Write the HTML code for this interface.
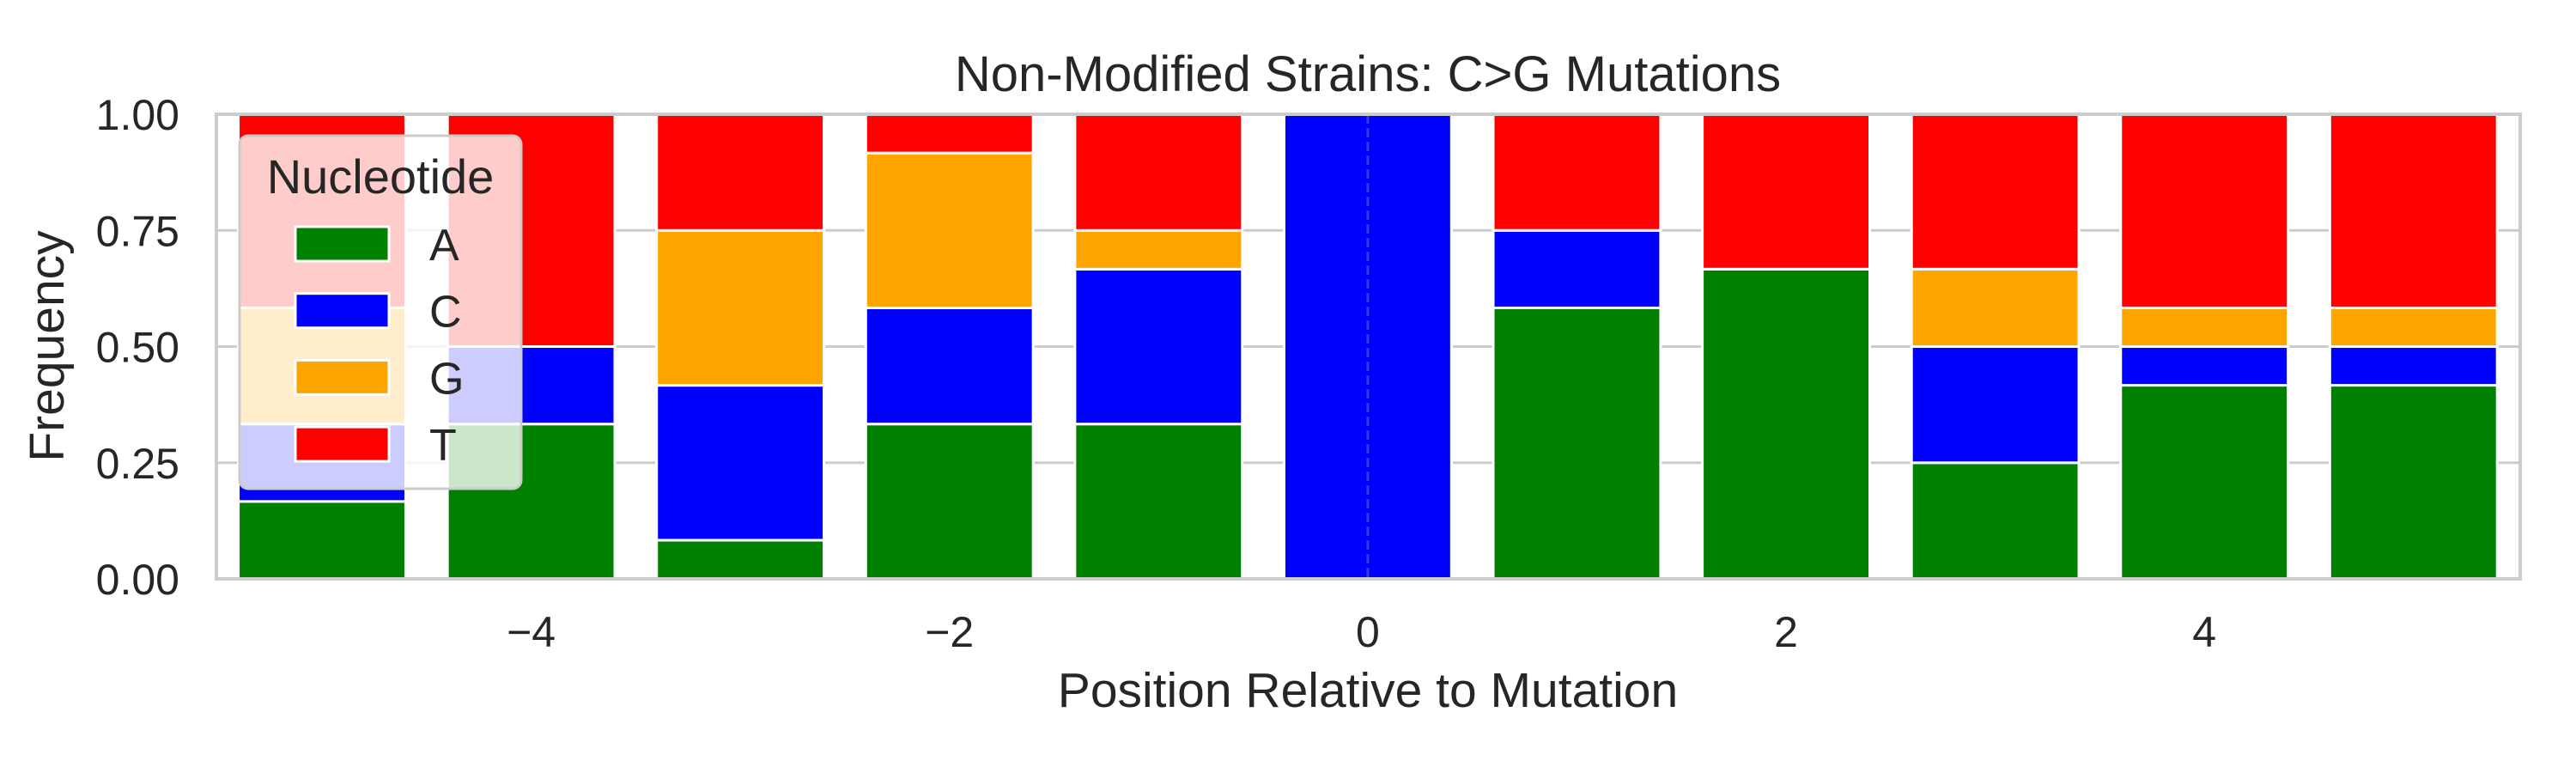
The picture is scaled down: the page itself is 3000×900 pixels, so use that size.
<!DOCTYPE html>
<html><head><meta charset="utf-8">
<style>
html,body{margin:0;padding:0;background:#fff;}
svg{display:block;font-family:"Liberation Sans",Arial,sans-serif;}
</style></head>
<body>
<svg id="chart" width="3000" height="900" viewBox="0 0 3000 900" xmlns="http://www.w3.org/2000/svg">
<rect x="0" y="0" width="3000" height="900" fill="#fff"/>
<g id="grid"></g>
<g id="bars"></g>
<g id="axes"></g>
<text x="1593" y="106" font-size="58" fill="#262626" text-anchor="middle">Non-Modified Strains: C&gt;G Mutations</text>
<text x="1593" y="823" font-size="57" fill="#262626" text-anchor="middle">Position Relative to Mutation</text>
<text transform="translate(74,403) rotate(-90)" font-size="57" fill="#262626" text-anchor="middle">Frequency</text>
<g id="legend"></g>
</svg>
<script>
const positions = [-5,-4,-3,-2,-1,0,1,2,3,4,5];
const nucleotides = ['A','C','G','T'];
const colors = ['#008000','#0000ff','#ffa500','#ff0000'];
const freqA = [0.1667,0.3333,0.0833,0.3333,0.3333,0,0.5833,0.6667,0.25,0.4167,0.4167];
const freqC = [0.1667,0.1667,0.3333,0.25,0.3333,1,0.1667,0,0.25,0.0833,0.0833];
const freqG = [0.25,0,0.3333,0.3333,0.0833,0,0,0,0.1667,0.0833,0.0833];
const freqT = [0.4167,0.5,0.25,0.0833,0.25,0,0.25,0.3333,0.3333,0.4167,0.4167];
const xTicks = [-4,-2,0,2,4];
const yTicks = [0,0.25,0.5,0.75,1];
const yTickLabels = ['0.00','0.25','0.50','0.75','1.00'];

const NS='http://www.w3.org/2000/svg';
const L=252,R=2935,T=133,B=674;
const xmin=-5.505,xmax=5.51;
const xs=v=>L+(v-xmin)/(xmax-xmin)*(R-L);
const ys=v=>B-v*(B-T);
function mk(tag,attrs,parent){const e=document.createElementNS(NS,tag);for(const k in attrs)e.setAttribute(k,attrs[k]);parent.appendChild(e);return e;}
const grid=document.getElementById('grid'),bars=document.getElementById('bars'),axes=document.getElementById('axes'),legend=document.getElementById('legend');

yTicks.forEach((t,i)=>{
  const g=mk('line',{x1:L,x2:R,y1:ys(t),y2:ys(t),stroke:'#cccccc','stroke-width':3},grid);
  
  
  const tx=mk('text',{x:209,y:ys(t)+18,'font-size':50,fill:'#262626','text-anchor':'end'},axes);
  tx.textContent=yTickLabels[i];
  
  
});
xTicks.forEach(t=>{
  const tx=mk('text',{x:xs(t),y:753,'font-size':50,fill:'#262626','text-anchor':'middle'},axes);
  tx.textContent=(t<0?'\u2212':'')+Math.abs(t);
  
  
});

const series=[freqA,freqC,freqG,freqT];
positions.forEach((p,i)=>{
  let base=0;
  series.forEach((s,k)=>{
    const v=s[i];
    if(v>0){
      const r=mk('rect',{x:xs(p-0.4),y:ys(base+v),width:xs(p+0.4)-xs(p-0.4),height:ys(base)-ys(base+v),fill:colors[k],stroke:'#fff','stroke-width':3},bars);
      
      
    }
    base+=v;
  });
});

const vl=mk('line',{x1:xs(0),x2:xs(0),y1:T,y2:B,stroke:'#3a3ad0','stroke-width':3,'stroke-dasharray':'11,5'},axes);



const fr=mk('rect',{x:L,y:T,width:R-L,height:B-T,fill:'none',stroke:'#cccccc','stroke-width':4},axes);



const lb=mk('rect',{x:279,y:158,width:328,height:411,rx:10,fill:'rgba(255,255,255,0.8)',stroke:'#cccccc','stroke-width':3},legend);


const lt=mk('text',{x:443,y:225,'font-size':56,fill:'#262626','text-anchor':'middle'},legend);
lt.textContent='Nucleotide';


nucleotides.forEach((n,k)=>{
  const cy=284+k*77.7;
  const pr=mk('rect',{x:344,y:cy-20,width:109,height:40,fill:colors[k],stroke:'#fff','stroke-width':3},legend);
  
  
  const t=mk('text',{x:500,y:cy+19,'font-size':52,fill:'#262626'},legend);
  t.textContent=n;
  
  
});
</script>
</body></html>
